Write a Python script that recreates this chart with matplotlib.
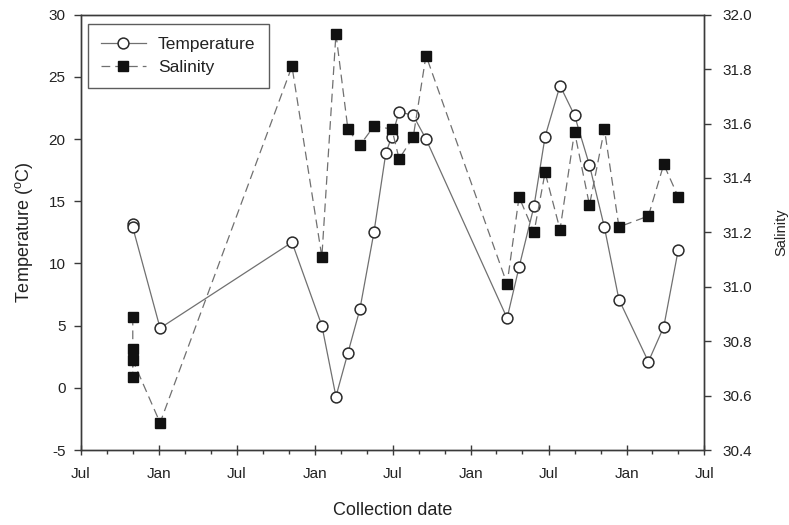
import matplotlib
matplotlib.use("Agg")
import matplotlib.pyplot as plt
import matplotlib.dates as mdates
import numpy as np
import pandas as pd

plt.rcParams['font.family'] = ['Liberation Sans', 'DejaVu Sans']

# Temperature samples
temp_dates = ["2003-10-31", "2003-10-31", "2004-01-03", "2004-11-07", "2005-01-16",
              "2005-02-18", "2005-03-18", "2005-04-15", "2005-05-18", "2005-06-15",
              "2005-06-29", "2005-07-16", "2005-08-18", "2005-09-17", "2006-03-26",
              "2006-04-23", "2006-05-28", "2006-06-23", "2006-07-28", "2006-08-31",
              "2006-10-05", "2006-11-09", "2006-12-13", "2007-02-20", "2007-03-28",
              "2007-05-01"]
temp_values = [13.2, 12.9, 4.8, 11.7, 5.0,
               -0.7, 2.8, 6.3, 12.5, 18.9,
               20.2, 22.2, 21.9, 20.0, 5.6,
               9.7, 14.6, 20.2, 24.3, 21.9,
               17.9, 12.9, 7.1, 2.1, 4.9,
               11.1]

# Salinity samples
sal_dates = ["2003-10-31", "2003-10-31", "2003-10-31", "2003-10-31", "2004-01-03",
             "2004-11-07", "2005-01-16", "2005-02-18", "2005-03-18", "2005-04-15",
             "2005-05-18", "2005-06-29", "2005-07-16", "2005-08-18", "2005-09-17",
             "2006-03-26", "2006-04-23", "2006-05-28", "2006-06-23", "2006-07-28",
             "2006-08-31", "2006-10-05", "2006-11-09", "2006-12-13", "2007-02-20",
             "2007-03-28", "2007-05-01"]
sal_values = [30.89, 30.67, 30.77, 30.73, 30.50,
              31.81, 31.11, 31.93, 31.58, 31.52,
              31.59, 31.58, 31.47, 31.55, 31.85,
              31.01, 31.33, 31.20, 31.42, 31.21,
              31.57, 31.30, 31.58, 31.22, 31.26,
              31.45, 31.33]

temp_ticks = [-5, 0, 5, 10, 15, 20, 25, 30]
sal_ticks = [30.4, 30.6, 30.8, 31.0, 31.2, 31.4, 31.6, 31.8, 32.0]

td = pd.to_datetime(temp_dates)
sd = pd.to_datetime(sal_dates)

dark = '#3a3a3a'
linec = '#707070'

fig = plt.figure(figsize=(7.89, 5.25), dpi=100)
ax = fig.add_axes([80.7/789, 1-450/525, (704.3-80.7)/789, (450-14.7)/525])
ax2 = ax.twinx()

lt, = ax.plot(td, temp_values, '-', color=linec, lw=0.9, marker='o', ms=7.8,
              mfc='white', mec='#2a2a2a', mew=1.1, label='Temperature', zorder=3)
ls, = ax2.plot(sd, sal_values, color=linec, lw=0.9, dashes=(7, 4), marker='s', ms=6.6,
               mfc='#111111', mec='#111111', label='Salinity', zorder=3)

ax.set_xlim(pd.Timestamp('2003-07-01'), pd.Timestamp('2007-07-01'))
ax.set_ylim(-5, 30)
ax2.set_ylim(30.4, 32.0)
ax.set_yticks(temp_ticks)
ax.set_yticklabels([str(t) for t in temp_ticks])
ax2.set_yticks(sal_ticks)
ax2.set_yticklabels([f"{t:.1f}" for t in sal_ticks])

ax.xaxis.set_major_locator(mdates.MonthLocator(bymonth=[1, 7]))
ax.xaxis.set_major_formatter(mdates.DateFormatter('%b'))
ax.xaxis.set_minor_locator(mdates.MonthLocator(bymonth=[3, 5, 9, 11]))

for a in (ax, ax2):
    for s in a.spines.values():
        s.set_color(dark)
        s.set_linewidth(1.0)

ax.tick_params(axis='x', which='major', direction='inout', length=7, width=1,
               color=dark, labelsize=11, labelcolor='#222222', pad=9)
ax.tick_params(axis='x', which='minor', direction='out', length=3, width=1, color=dark)
ax.tick_params(axis='y', direction='out', length=5, width=1, color=dark,
               labelsize=11, labelcolor='#222222', pad=6)
ax2.tick_params(axis='y', direction='out', length=5, width=1, color=dark,
                labelsize=11, labelcolor='#222222', pad=8)

ax.set_xlabel('Collection date', fontsize=13, color='#222222', labelpad=15)
ax.set_ylabel('Temperature ($\\mathregular{^oC}$)', fontsize=13, color='#222222', labelpad=10)
ax2.set_ylabel('Salinity', fontsize=10.5, color='#222222', labelpad=16)

ax2.set_zorder(ax.get_zorder() + 1)
ax2.patch.set_visible(False)

leg = ax2.legend(handles=[lt, ls], loc='upper left', bbox_to_anchor=(7/623.6, 1 - 9.5/435.3),
                 frameon=True, fancybox=False, edgecolor='#333333', fontsize=12.5,
                 handlelength=2.6, handletextpad=0.7, borderpad=0.75, labelspacing=0.45,
                 borderaxespad=0)
leg.get_frame().set_linewidth(1.0)
for t in leg.get_texts():
    t.set_color('#222222')

fig.savefig('out.png', dpi=100)
